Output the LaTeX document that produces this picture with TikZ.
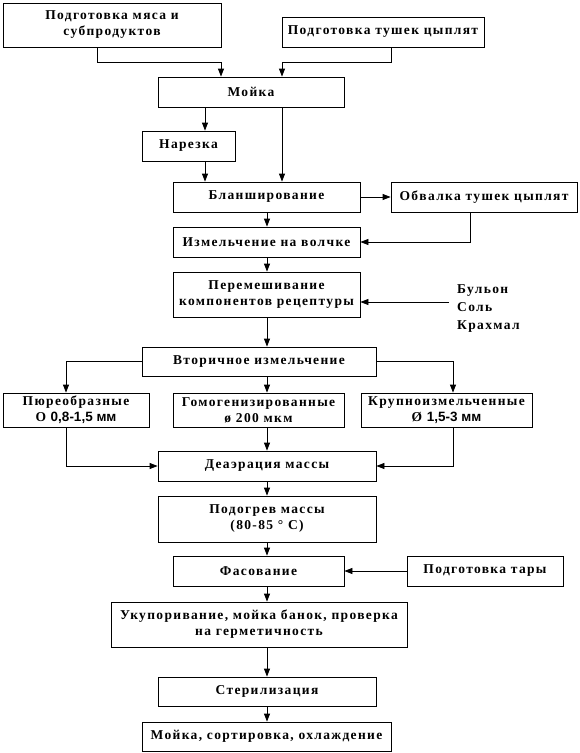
\documentclass[tikz,border=0pt]{standalone}
\usepackage{fontspec}
\setmainfont{Liberation Serif}[LetterSpace=10]
\newfontfamily\numfont{Liberation Sans}
\usetikzlibrary{arrows.meta}
\tikzset{
    box/.style={draw, rectangle, line width=0.8pt, inner sep=0pt, align=center, font=\bfseries\fontsize{13.5}{16}\selectfont},
    arrow/.style={line width=0.8pt, -{Triangle[length=8pt, width=6pt]}}
}

\begin{document}
\begin{tikzpicture}[x=1pt, y=-1pt]
\useasboundingbox (0,0) rectangle (580,753);
% lanes of the vertical connectors
\coordinate (axis) at (267,0);
\coordinate (leftlane) at (205,0);
\coordinate (rightlane) at (282,0);

\node[box, minimum width=218pt, minimum height=44pt] (meat) at (112,25) {Подготовка мяса и\\субпродуктов};
\node[box, minimum width=202pt, minimum height=30pt] (chick) at (383,32) {Подготовка тушек цыплят};
\node[box, minimum width=186pt, minimum height=30pt] (wash) at (251,92) {Мойка};
\node[box, minimum width=93pt, minimum height=30pt] (cut) at (188.5,146) {Нарезка};
\node[box, minimum width=187pt, minimum height=30pt] (blanch) at (266.5,197) {Бланширование};
\node[box, minimum width=186pt, minimum height=30pt] (bone) at (484,197) {Обвалка тушек цыплят};
\node[box, minimum width=187pt, minimum height=30pt] (mince) at (266.5,242) {Измельчение на волчке};
\node[box, minimum width=187pt, minimum height=45pt] (mix) at (266.5,294.5) {Перемешивание\\компонентов рецептуры};
\node[anchor=west, inner sep=0pt, align=left, font=\bfseries\fontsize{13.5}{18}\selectfont] (extras) at (457,309) {Бульон\\Соль\\Крахмал};
\node[box, minimum width=234pt, minimum height=29pt] (second) at (259,361.5) {Вторичное измельчение};
\node[box, minimum width=146pt, minimum height=34pt] (puree) at (76,410) {Пюреобразные\\О {\numfont 0,8-1,5 мм}};
\node[box, minimum width=171pt, minimum height=34pt] (homog) at (258.5,410) {Гомогенизированные\\ø 200 мкм};
\node[box, minimum width=171pt, minimum height=34pt] (coarse) at (446.5,410) {Крупноизмельченные\\Ø {\numfont 1,5-3 мм}};
\node[box, minimum width=218pt, minimum height=30pt] (deaer) at (267,466) {Деаэрация массы};
\node[box, minimum width=218pt, minimum height=46pt] (heat) at (267,519) {Подогрев массы\\(80-85 ° С)};
\node[box, minimum width=171pt, minimum height=30pt] (pack) at (258.5,571) {Фасование};
\node[box, minimum width=156pt, minimum height=30pt] (tare) at (485,571) {Подготовка тары};
\node[box, minimum width=296pt, minimum height=45pt] (seal) at (259,624.5) {Укупоривание, мойка банок, проверка\\на герметичность};
\node[box, minimum width=218pt, minimum height=29pt] (steril) at (267,691.5) {Стерилизация};
\node[box, minimum width=249pt, minimum height=29pt] (final) at (266.5,736.5) {Мойка, сортировка, охлаждение};

% top part
\draw[arrow] ([xshift=-15pt]meat.south) -- ++(0,15) -| ([xshift=-30pt]wash.north);
\draw[arrow] ([xshift=8pt]chick.south) -- ++(0,15) -| (wash.north -| rightlane);
\draw[arrow] (wash.south -| leftlane) -- (cut.north -| leftlane);
\draw[arrow] (cut.south -| leftlane) -- (blanch.north -| leftlane);
\draw[arrow] (wash.south -| rightlane) -- (blanch.north -| rightlane);
\draw[arrow] (blanch.east) -- (bone.west);
\draw[arrow] ([xshift=-14pt]bone.south) |- (mince.east);
\draw[arrow] (blanch.south -| axis) -- (mince.north -| axis);
\draw[arrow] (mince.south -| axis) -- (mix.north -| axis);
\draw[arrow] ([xshift=-8pt, yshift=7pt]extras.west) -- ([yshift=7pt]extras.west -| mix.east);
\draw[arrow] (mix.south -| axis) -- (second.north -| axis);

% branches
\draw[arrow] (second.west) -| ([xshift=-10pt]puree.north);
\draw[arrow] (second.south -| axis) -- (homog.north -| axis);
\draw[arrow] (second.east) -| ([xshift=6.5pt]coarse.north);
\draw[arrow] ([xshift=-10pt]puree.south) |- (deaer.west);
\draw[arrow] (homog.south -| axis) -- (deaer.north -| axis);
\draw[arrow] ([xshift=6.5pt]coarse.south) |- (deaer.east);

% bottom part
\draw[arrow] (deaer.south -| axis) -- (heat.north -| axis);
\draw[arrow] (heat.south -| axis) -- (pack.north -| axis);
\draw[arrow] (tare.west) -- (pack.east);
\draw[arrow] (pack.south -| axis) -- (seal.north -| axis);
\draw[arrow] (seal.south -| axis) -- (steril.north -| axis);
\draw[arrow] (steril.south -| axis) -- (final.north -| axis);
\end{tikzpicture}
\end{document}
